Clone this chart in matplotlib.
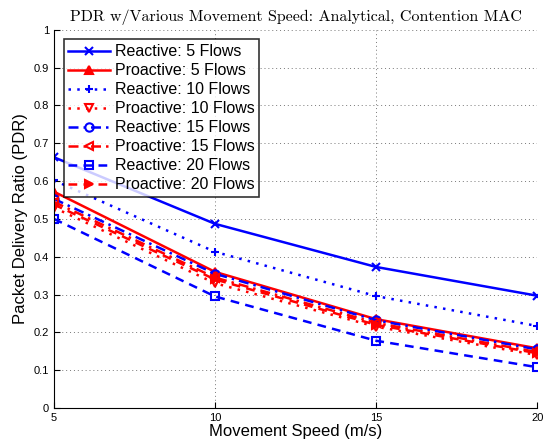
import numpy as np
import matplotlib
matplotlib.use("Agg")
import matplotlib.pyplot as plt

plt.rcParams['font.family'] = ['Liberation Sans', 'DejaVu Sans']

speed = [5, 10, 15, 20]

reactive_5 = [0.663, 0.487, 0.373, 0.297]
proactive_5 = [0.572, 0.360, 0.235, 0.158]
reactive_10 = [0.602, 0.413, 0.296, 0.217]
proactive_10 = [0.530, 0.330, 0.215, 0.140]
reactive_15 = [0.553, 0.355, 0.232, 0.155]
proactive_15 = [0.545, 0.345, 0.225, 0.148]
reactive_20 = [0.500, 0.295, 0.178, 0.108]
proactive_20 = [0.538, 0.340, 0.220, 0.145]

labels = ["Reactive: 5 Flows", "Proactive: 5 Flows",
          "Reactive: 10 Flows", "Proactive: 10 Flows",
          "Reactive: 15 Flows", "Proactive: 15 Flows",
          "Reactive: 20 Flows", "Proactive: 20 Flows"]
series = [reactive_5, proactive_5, reactive_10, proactive_10,
          reactive_15, proactive_15, reactive_20, proactive_20]
colors = ["#0000ff", "#ff0000"] * 4
dot = (0, (1, 2.5))
dashdot = (0, (4, 2, 1, 2))
dash = (0, (3.5, 2.5))
styles = ["-", "-", dot, dot, dashdot, dashdot, dash, dash]
markers = ["x", "^", "+", "v", "o", "<", "s", ">"]

fig = plt.figure(figsize=(5.51, 4.45), dpi=100)
ax = fig.add_axes([0.098, 0.083, 0.877, 0.85])

for y, lab, c, ls, m in zip(series, labels, colors, styles, markers):
    ax.plot(speed, y, linestyle=ls, marker=m, color=c, label=lab,
            linewidth=1.8, markersize=6, markerfacecolor='none'
            if m in ("o", "s", "v", "<") else c, markeredgewidth=1.5)

ax.set_xlim(5, 20)
ax.set_ylim(0, 1)
ax.set_xticks([5, 10, 15, 20])
ax.set_yticks(np.arange(0, 1.01, 0.1))
ax.set_yticklabels(["0", "0.1", "0.2", "0.3", "0.4", "0.5", "0.6", "0.7", "0.8", "0.9", "1"])
ax.tick_params(direction="in", labelsize=8, length=4)
ax.grid(True, linestyle=(0, (1, 3)), color="#777777", linewidth=0.7)
ax.spines["top"].set_visible(False)
ax.spines["right"].set_visible(False)

ax.set_xlabel("Movement Speed (m/s)", fontsize=12, labelpad=1)
ax.set_ylabel("Packet Delivery Ratio (PDR)", fontsize=12, labelpad=4)
ax.set_title("PDR w/Various Movement Speed: Analytical, Contention MAC",
             fontsize=11.5, family="cmr10", pad=6)

leg = ax.legend(loc="upper left", fontsize=11.5, frameon=True, fancybox=False,
                edgecolor="black", borderaxespad=0.6, handlelength=2.6,
                labelspacing=0.25, borderpad=0.3, handletextpad=0.3)
leg.get_frame().set_linewidth(1.2)

fig.savefig("out.png", dpi=100)
